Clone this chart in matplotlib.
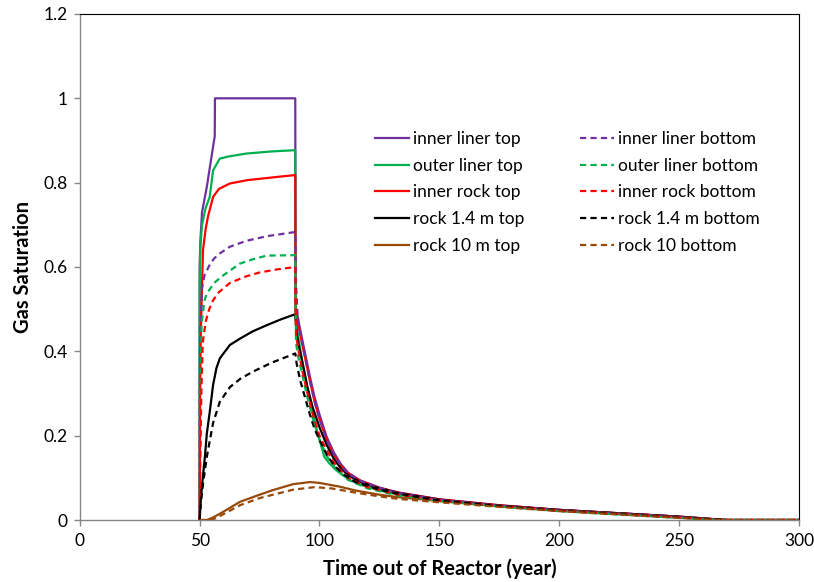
"""
gasSaturation.py

Gas saturation at liner / rock monitoring points versus time out of reactor.
"""

import matplotlib.pyplot as plt
from matplotlib.ticker import FormatStrFormatter, MultipleLocator


# ============================================================
# DATA
# ============================================================
inner_liner_top_x = [50, 50, 50.3, 51, 53, 55.6, 56.3, 56.4, 89.9, 90, 91, 92, 94, 96, 98, 100, 103, 106, 109, 112, 117, 125, 133, 150, 175, 200, 225, 250, 262, 270, 300]
inner_liner_top_y = [0, 0.6, 0.66, 0.73, 0.79, 0.885, 0.91, 1.0, 1.0, 0.5, 0.48, 0.45, 0.395, 0.34, 0.29, 0.25, 0.197, 0.16, 0.132, 0.112, 0.094, 0.077, 0.065, 0.049, 0.035, 0.024, 0.016, 0.008, 0.003, 0, 0]

outer_liner_top_x = [50, 50, 50.3, 51, 52.5, 54.2, 55.6, 58.4, 62, 69.5, 80, 89.9, 90, 91, 93, 95, 97, 99, 101, 102, 104, 107, 110, 113, 117, 125, 133, 150, 175, 200, 225, 250, 262, 270, 300]
outer_liner_top_y = [0, 0.55, 0.648, 0.7, 0.74, 0.766, 0.829, 0.857, 0.862, 0.869, 0.874, 0.877, 0.48, 0.44, 0.37, 0.31, 0.26, 0.21, 0.17, 0.15, 0.135, 0.118, 0.105, 0.094, 0.084, 0.07, 0.06, 0.047, 0.034, 0.023, 0.015, 0.007, 0.002, 0, 0]

inner_rock_top_x = [50, 50.2, 50.5, 51.4, 52.5, 53.5, 55.6, 58, 62.6, 70, 76.5, 83, 89.9, 90, 91, 92, 94, 96, 98, 100, 103, 106, 109, 112, 117, 125, 133, 150, 175, 200, 225, 250, 262, 270, 300]
inner_rock_top_y = [0, 0.3, 0.45, 0.64, 0.69, 0.72, 0.766, 0.785, 0.798, 0.806, 0.81, 0.814, 0.818, 0.5, 0.47, 0.44, 0.385, 0.33, 0.28, 0.24, 0.19, 0.155, 0.128, 0.11, 0.093, 0.076, 0.065, 0.049, 0.035, 0.024, 0.016, 0.008, 0.003, 0, 0]

rock14_top_x = [50, 50.5, 51.3, 52.2, 53, 54.3, 55.6, 57, 58.4, 62.6, 66.8, 72, 78, 84, 89.9, 90.5, 91.5, 93, 95, 97, 100, 103, 106, 109, 112, 117, 125, 133, 150, 175, 200, 225, 250, 262, 270, 300]
rock14_top_y = [0, 0.05, 0.1, 0.15, 0.205, 0.26, 0.32, 0.36, 0.383, 0.415, 0.43, 0.447, 0.462, 0.476, 0.488, 0.44, 0.41, 0.37, 0.315, 0.27, 0.22, 0.178, 0.145, 0.122, 0.106, 0.09, 0.075, 0.064, 0.048, 0.034, 0.024, 0.016, 0.008, 0.003, 0, 0]

rock10_top_x = [50, 53, 55.6, 60, 66.8, 74, 80.6, 89, 96, 100, 108.5, 115, 125, 133, 150, 175, 200, 225, 250, 267, 300]
rock10_top_y = [0, 0, 0.006, 0.02, 0.043, 0.058, 0.071, 0.085, 0.09, 0.088, 0.079, 0.07, 0.06, 0.054, 0.045, 0.033, 0.023, 0.015, 0.007, 0, 0]

inner_liner_bot_x = [50, 50, 50.3, 51, 52, 54, 56, 58.4, 62.6, 69.5, 78, 89.9, 90.2, 91, 92, 94, 96, 98, 100, 103, 106, 109, 112, 117, 125, 133, 150, 175, 200, 225, 250, 262, 270, 300]
inner_liner_bot_y = [0, 0.3, 0.45, 0.55, 0.58, 0.603, 0.62, 0.632, 0.648, 0.662, 0.673, 0.683, 0.56, 0.47, 0.44, 0.385, 0.33, 0.28, 0.24, 0.19, 0.155, 0.128, 0.11, 0.093, 0.076, 0.064, 0.048, 0.034, 0.023, 0.015, 0.007, 0.002, 0, 0]

outer_liner_bot_x = [50, 50.3, 50.8, 52, 53, 56, 59.8, 66.8, 72, 78, 89.9, 90.2, 91, 93, 95, 97, 100, 103, 107, 112, 120, 133, 150, 175, 200, 225, 250, 262, 270, 300]
outer_liner_bot_y = [0, 0.3, 0.466, 0.52, 0.537, 0.562, 0.58, 0.608, 0.618, 0.627, 0.628, 0.42, 0.39, 0.34, 0.29, 0.245, 0.19, 0.152, 0.12, 0.095, 0.075, 0.058, 0.045, 0.032, 0.021, 0.013, 0.005, 0.001, 0, 0]

inner_rock_bot_x = [50, 50.3, 50.7, 51.3, 52.5, 54, 55.6, 58, 62.6, 69, 75, 82, 89.9, 90.2, 91, 93, 95, 97, 100, 103, 107, 112, 120, 133, 150, 175, 200, 225, 250, 262, 270, 300]
inner_rock_bot_y = [0, 0.15, 0.3, 0.42, 0.47, 0.5, 0.521, 0.54, 0.562, 0.577, 0.587, 0.594, 0.6, 0.44, 0.41, 0.35, 0.3, 0.255, 0.2, 0.165, 0.128, 0.1, 0.078, 0.06, 0.046, 0.033, 0.022, 0.014, 0.006, 0.002, 0, 0]

rock14_bot_x = [50, 50.5, 51.5, 53, 54.3, 55.6, 58.4, 62.6, 67, 72.3, 80, 89.9, 90.5, 92, 94, 96, 98, 100, 103, 106, 110, 115, 125, 133, 150, 175, 200, 225, 250, 262, 270, 300]
rock14_bot_y = [0, 0.04, 0.09, 0.15, 0.19, 0.23, 0.28, 0.315, 0.335, 0.352, 0.373, 0.395, 0.37, 0.33, 0.29, 0.25, 0.215, 0.19, 0.155, 0.13, 0.108, 0.09, 0.072, 0.062, 0.046, 0.033, 0.022, 0.014, 0.006, 0.002, 0, 0]

rock10_bot_x = [50, 55, 58, 66.8, 75, 89, 98, 105, 115, 125, 133, 150, 175, 200, 225, 250, 265, 300]
rock10_bot_y = [0, 0, 0.008, 0.035, 0.052, 0.072, 0.078, 0.075, 0.065, 0.056, 0.05, 0.042, 0.031, 0.021, 0.013, 0.005, 0, 0]

labels_top = ["inner liner top", "outer liner top", "inner rock top", "rock 1.4 m top", "rock 10 m top"]
labels_bot = ["inner liner bottom", "outer liner bottom", "inner rock bottom", "rock 1.4 m bottom", "rock 10 bottom"]
colors = ["#7030A0", "#00B050", "#FF0000", "#000000", "#984807"]
# ============================================================


def main():
    plt.rcParams["font.family"] = ["Lato", "DejaVu Sans"]

    top_series = [
        (inner_liner_top_x, inner_liner_top_y),
        (outer_liner_top_x, outer_liner_top_y),
        (inner_rock_top_x, inner_rock_top_y),
        (rock14_top_x, rock14_top_y),
        (rock10_top_x, rock10_top_y),
    ]
    bot_series = [
        (inner_liner_bot_x, inner_liner_bot_y),
        (outer_liner_bot_x, outer_liner_bot_y),
        (inner_rock_bot_x, inner_rock_bot_y),
        (rock14_bot_x, rock14_bot_y),
        (rock10_bot_x, rock10_bot_y),
    ]

    fig = plt.figure(figsize=(8.14, 5.82), dpi=100)
    ax = fig.add_axes([0.098, 0.1065, 0.8835, 0.8695])

    for (x, y), lab, c in zip(top_series, labels_top, colors):
        ax.plot(x, y, color=c, lw=1.6, label=lab)
    for (x, y), lab, c in zip(bot_series, labels_bot, colors):
        ax.plot(x, y, color=c, lw=1.6, ls=(0, (2.8, 1.9)), label=lab)

    ax.set_xlim(0, 300)
    ax.set_ylim(0, 1.2)
    ax.xaxis.set_major_locator(MultipleLocator(50))
    ax.yaxis.set_major_locator(MultipleLocator(0.2))
    ax.yaxis.set_major_formatter(FormatStrFormatter("%g"))

    for side in ["left", "bottom"]:
        ax.spines[side].set_color("#868686")
        ax.spines[side].set_linewidth(1.0)
    for side in ["top", "right"]:
        ax.spines[side].set_color("black")
        ax.spines[side].set_linewidth(0.8)
    ax.tick_params(direction="out", length=4, width=1.0, color="#868686",
                   labelsize=12.5, pad=5)

    ax.set_xlabel("Time out of Reactor (year)", fontsize=14.5, fontweight="bold", labelpad=7)
    ax.set_ylabel("Gas Saturation", fontsize=14.5, fontweight="bold", labelpad=7)

    ax.legend(ncol=2, loc="upper left", bbox_to_anchor=(0.41, 0.769),
              frameon=False, fontsize=12.5, handlelength=2.0, handletextpad=0.2,
              columnspacing=3.2, labelspacing=0.62, borderpad=0, borderaxespad=0)

    fig.savefig("out.png", dpi=100)


if __name__ == "__main__":
    main()
